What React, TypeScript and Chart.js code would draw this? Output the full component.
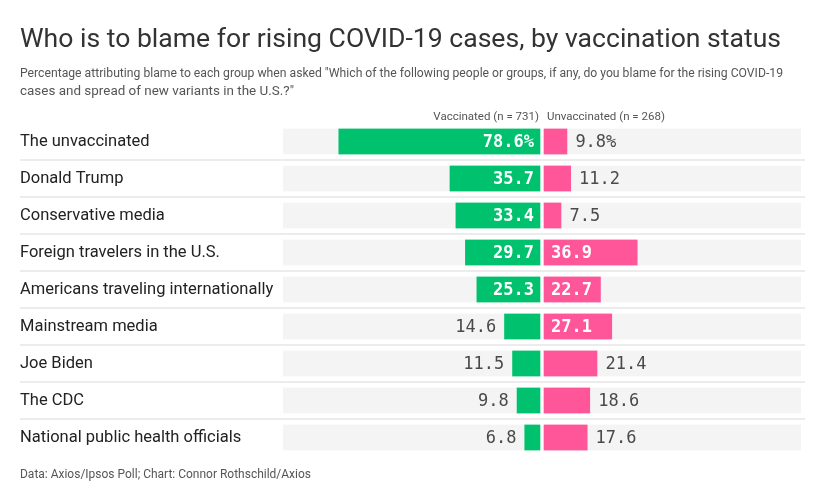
import React, { useEffect, useLayoutEffect, useRef } from "react";
import { Chart, registerables } from "chart.js";

Chart.register(...registerables);

const categories = [
  "The unvaccinated",
  "Donald Trump",
  "Conservative media",
  "Foreign travelers in the U.S.",
  "Americans traveling internationally",
  "Mainstream media",
  "Joe Biden",
  "The CDC",
  "National public health officials",
];
const vaccinated = [78.6, 35.7, 33.4, 29.7, 25.3, 14.6, 11.5, 9.8, 6.8];
const unvaccinated = [9.8, 11.2, 7.5, 36.9, 22.7, 27.1, 21.4, 18.6, 17.6];
const seriesLabels = ["Vaccinated (n = 731)", "Unvaccinated (n = 268)"];
const fullScale = categories.map(() => 100);

const TITLE = "Who is to blame for rising COVID-19 cases, by vaccination status";
const SUBTITLE_LINES = [
  'Percentage attributing blame to each group when asked "Which of the following people or groups, if any, do you blame for the rising COVID-19',
  'cases and spread of new variants in the U.S.?"',
];
const SOURCE = "Data: Axios/Ipsos Poll; Chart: Connor Rothschild/Axios";

const GREEN = "#00c26e";
const PINK = "#ff5599";
const TRACK = "#f4f4f4";
const SANS = 'Roboto, "Noto Sans", sans-serif';
const MONO = '"DejaVu Sans Mono", "Liberation Mono", monospace';

const decorPlugin = {
  id: "decor",
  beforeDatasetsDraw(chart: any) {
    const { ctx, scales, chartArea } = chart;
    const y = scales.y;
    ctx.save();
    ctx.strokeStyle = "#e6e6e6";
    ctx.lineWidth = 1.5;
    for (let i = 0; i < categories.length - 1; i++) {
      const yy = (y.getPixelForTick(i) + y.getPixelForTick(i + 1)) / 2;
      ctx.beginPath();
      ctx.moveTo(20, yy);
      ctx.lineTo(chartArea.right + 4, yy);
      ctx.stroke();
    }
    const zero = scales.x.getPixelForValue(0);
    ctx.fillStyle = "#555";
    ctx.font = `11.5px ${SANS}`;
    ctx.textBaseline = "middle";
    ctx.textAlign = "right";
    ctx.fillText(seriesLabels[0], zero - 3, chartArea.top - 6);
    ctx.textAlign = "left";
    ctx.fillText(seriesLabels[1], zero + 5, chartArea.top - 6);
    ctx.restore();
  },
  afterDatasetsDraw(chart: any) {
    const { ctx } = chart;
    ctx.save();
    ctx.textBaseline = "middle";
    [0, 1].forEach((di) => {
      const meta = chart.getDatasetMeta(di);
      const values = di === 0 ? vaccinated : unvaccinated;
      meta.data.forEach((bar: any, i: number) => {
        const v = values[i];
        const text = v.toFixed(1) + (i === 0 ? "%" : "");
        const inside = v >= 22;
        ctx.font = inside ? `bold 17px ${MONO}` : `17px ${MONO}`;
        ctx.fillStyle = inside ? "#ffffff" : "#4a4a4a";
        if (di === 0) {
          ctx.textAlign = "right";
          ctx.fillText(text, inside ? bar.base - 8 : bar.x - 8, bar.y + 1);
        } else {
          ctx.textAlign = "left";
          ctx.fillText(text, inside ? bar.base + 9 : bar.x + 8, bar.y + 1);
        }
      });
    });
    ctx.restore();
  },
};

function FitText(props: { text: string; width: number; style: React.CSSProperties }) {
  const ref = useRef<HTMLSpanElement | null>(null);
  useLayoutEffect(() => {
    const el = ref.current;
    if (!el) return;
    el.style.transform = "none";
    const w = el.getBoundingClientRect().width;
    if (w > 0) el.style.transform = `scaleX(${props.width / w})`;
  }, [props.text, props.width]);
  return (
    <span
      ref={ref}
      style={{
        ...props.style,
        position: "absolute",
        whiteSpace: "nowrap",
        transformOrigin: "0 0",
        display: "inline-block",
      }}
    >
      {props.text}
    </span>
  );
}

export default function App() {
  const ref = useRef<HTMLCanvasElement | null>(null);
  useEffect(() => {
    if (!ref.current) return;
    const common = {
      grouped: false,
      barThickness: 26,
      borderSkipped: false,
      borderColor: "#ffffff",
    };
    const chart = new Chart(ref.current, {
      type: "bar",
      data: {
        labels: categories,
        datasets: [
          {
            ...common,
            label: seriesLabels[0],
            data: vaccinated.map((v) => -v),
            backgroundColor: GREEN,
            borderWidth: { top: 0, right: 2, bottom: 0, left: 0 },
            order: 0,
          },
          {
            ...common,
            label: seriesLabels[1],
            data: unvaccinated,
            backgroundColor: PINK,
            borderWidth: { top: 0, right: 0, bottom: 0, left: 2 },
            order: 0,
          },
          {
            ...common,
            label: "track-left",
            data: fullScale.map((v) => -v),
            backgroundColor: TRACK,
            borderWidth: { top: 0, right: 2, bottom: 0, left: 0 },
            order: 1,
          },
          {
            ...common,
            label: "track-right",
            data: fullScale,
            backgroundColor: TRACK,
            borderWidth: { top: 0, right: 0, bottom: 0, left: 2 },
            order: 1,
          },
        ] as any,
      },
      options: {
        indexAxis: "y",
        animation: false,
        responsive: false,
        layout: { padding: { left: 20, right: 17, top: 123, bottom: 32 } },
        plugins: {
          legend: { display: false },
          tooltip: { enabled: false },
          title: { display: false },
        },
        scales: {
          x: { display: false, min: -100, max: 100 },
          y: {
            type: "category",
            grid: { display: false },
            border: { display: false },
            afterFit: (scale: any) => {
              scale.width = 263;
            },
            ticks: {
              crossAlign: "far",
              color: "#222",
              font: { family: SANS, size: 16.5 },
            },
          },
        },
      } as any,
      plugins: [decorPlugin],
    });
    return () => chart.destroy();
  }, []);

  const subStyle: React.CSSProperties = {
    left: 20,
    fontFamily: SANS,
    fontSize: 12,
    lineHeight: "18px",
    color: "#555",
  };

  return (
    <div
      style={{
        position: "absolute",
        left: 0,
        top: 0,
        width: 818,
        height: 488,
        overflow: "hidden",
        background: "#fff",
      }}
    >
      <canvas
        ref={ref}
        width={818}
        height={488}
        style={{ position: "absolute", left: 0, top: 0, width: 818, height: 488 }}
      />
      <FitText
        text={TITLE}
        width={761}
        style={{
          left: 20,
          top: 26,
          fontFamily: SANS,
          fontSize: 25.5,
          lineHeight: "25px",
          color: "#333",
        }}
      />
      <FitText text={SUBTITLE_LINES[0]} width={763} style={{ ...subStyle, top: 64 }} />
      <FitText text={SUBTITLE_LINES[1]} width={274} style={{ ...subStyle, top: 82 }} />
      <FitText
        text={SOURCE}
        width={291}
        style={{
          left: 20,
          top: 465,
          fontFamily: SANS,
          fontSize: 12,
          lineHeight: "18px",
          color: "#555",
        }}
      />
    </div>
  );
}
